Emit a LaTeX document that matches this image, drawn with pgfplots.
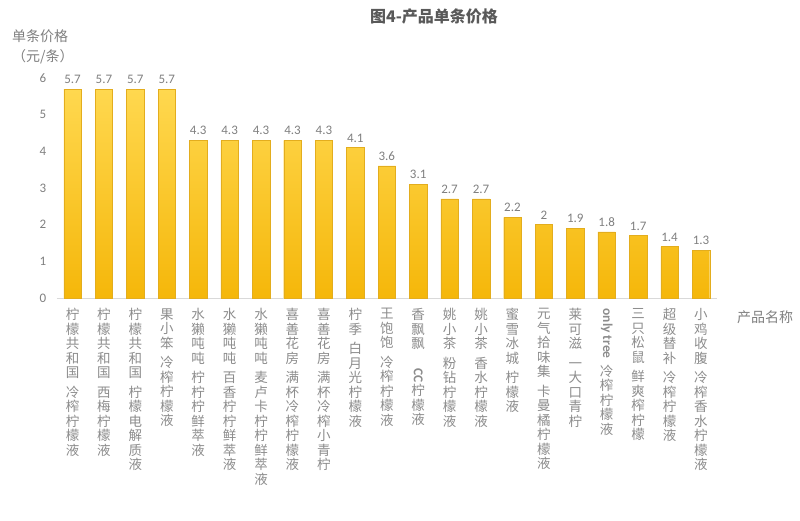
\documentclass[border=0pt]{standalone}
\usepackage{fontspec}
\setmainfont{Noto Sans CJK SC}
\newfontfamily\lat{Carlito}
\usepackage{pgfplots}
\pgfplotsset{compat=1.18}

\definecolor{bartop}{HTML}{FFD84F}
\definecolor{barbot}{HTML}{F5B70A}
\definecolor{baredge}{HTML}{E3AD1E}
\definecolor{txt}{HTML}{7F7F7F}
\definecolor{lbl}{HTML}{8C8C8C}
\definecolor{ttl}{HTML}{595959}
\definecolor{axl}{HTML}{D9D9D9}

% vertical (stacked) tick labels: brand, gap, product
\makeatletter
\newcommand\vlab[2]{\vbox{\fontsize{13.5}{14.5}\selectfont
  \baselineskip=14.5pt\lineskiplimit=0pt\lineskip=2pt
  \@tfor\vl@c:=#1\do{\hbox to 14pt{\hss\vl@c\hss}}%
  \vskip 5pt
  \@tfor\vl@c:=#2\do{\hbox to 14pt{\hss\vl@c\hss}}}}
\newcommand\vlabR[2]{\vbox{\fontsize{13.5}{14.5}\selectfont
  \baselineskip=14.5pt\lineskiplimit=0pt\lineskip=2pt
  \hbox to 14pt{\hss\rotatebox{-90}{\lat\bfseries #1}\hss}%
  \vskip 4pt
  \@tfor\vl@c:=#2\do{\hbox to 14pt{\hss\vl@c\hss}}}}
\makeatother

\begin{document}
\begin{tikzpicture}
\path[use as bounding box] (0,0) rectangle (800pt,521pt);
\begin{axis}[
    at={(56.8pt,223pt)}, anchor=south west,
    scale only axis, width=659.9pt, height=220pt,
    xmin=-0.5, xmax=20.5, ymin=0, ymax=6,
    ybar, bar width=17.5pt,
    axis x line*=bottom, axis y line*=left,
    x axis line style={draw=axl, line width=0.8pt},
    y axis line style={draw=none},
    major tick length=0pt,
    xtick=data, ytick={0,1,2,3,4,5,6},
    xticklabels={
      {\vlab{柠檬共和国}{冷榨柠檬液}},
      {\vlab{柠檬共和国}{西梅柠檬液}},
      {\vlab{柠檬共和国}{柠檬电解质液}},
      {\vlab{果小笨}{冷榨柠檬液}},
      {\vlab{水獭吨吨}{柠柠柠鲜萃液}},
      {\vlab{水獭吨吨}{百香柠柠鲜萃液}},
      {\vlab{水獭吨吨}{麦卢卡柠柠鲜萃液}},
      {\vlab{喜善花房}{满杯冷榨柠檬液}},
      {\vlab{喜善花房}{满杯冷榨小青柠}},
      {\vlab{柠季}{白月光柠檬液}},
      {\vlab{王饱饱}{冷榨柠檬液}},
      {\vlab{香飘飘}{{\rotatebox{-90}{\lat\bfseries CC}}柠檬液}},
      {\vlab{姚小茶}{粉钻柠檬液}},
      {\vlab{姚小茶}{香水柠檬液}},
      {\vlab{蜜雪冰城}{柠檬液}},
      {\vlab{元气拾味集}{卡曼橘柠檬液}},
      {\vlab{莱可滋}{一大口青柠}},
      {\vlabR{only tree}{冷榨柠檬液}},
      {\vlab{三只松鼠}{鲜爽榨柠檬}},
      {\vlab{超级替补}{冷榨柠檬液}},
      {\vlab{小鸡收腹}{冷榨香水柠檬液}}
    },
    xticklabel style={anchor=north, yshift=-7pt, text=lbl},
    yticklabel style={font=\lat\fontsize{13}{13}\selectfont, text=txt, xshift=-7pt},
    /pgf/number format/assume math mode=true,
    nodes near coords,
    nodes near coords style={font=\lat\fontsize{13}{13}\selectfont, text=txt, yshift=2pt},
    title={图4-产品单条价格},
    title style={at={(0.5716,1.2545)}, anchor=center, font=\fontsize{16}{16}\selectfont\bfseries, text=ttl},
    ylabel={单条价格\\（元/条）},
    ylabel style={rotate=-90, at={(-0.0679,1.14)}, anchor=west, inner sep=0pt,
      align=left, font=\fontsize{14}{20}\selectfont, text=txt},
    xlabel={产品名称},
    xlabel style={at={(1.0732,-0.0864)}, anchor=center, font=\fontsize{14}{14}\selectfont, text=txt},
    enlargelimits=false, clip=false,
  ]
  \addplot[draw=baredge, top color=bartop, bottom color=barbot] coordinates {
    (0,5.7) (1,5.7) (2,5.7) (3,5.7) (4,4.3) (5,4.3) (6,4.3) (7,4.3) (8,4.3)
    (9,4.1) (10,3.6) (11,3.1) (12,2.7) (13,2.7) (14,2.2) (15,2) (16,1.9)
    (17,1.8) (18,1.7) (19,1.4) (20,1.3)
  };
\end{axis}
\end{tikzpicture}
\end{document}
